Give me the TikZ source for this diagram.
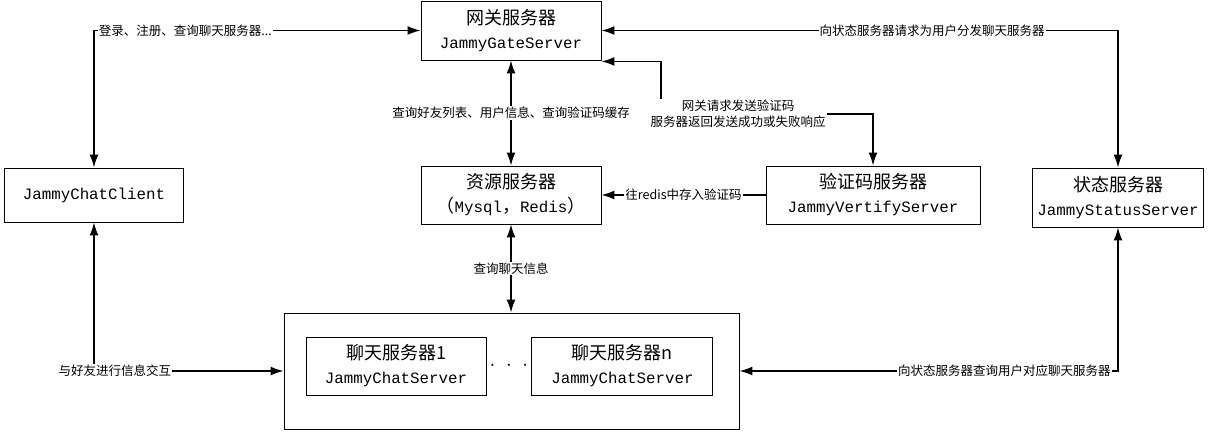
\documentclass[tikz,border=0pt]{standalone}
\usepackage{fontspec}
\setmainfont{Noto Sans CJK SC}
\newfontfamily\latinmono{Liberation Mono}
\usepackage{tikz}
\usetikzlibrary{arrows.meta,positioning,calc}
\newcommand{\mono}[1]{{\latinmono\fontsize{15.8}{24}\selectfont #1}}

\begin{document}
\begin{tikzpicture}[
  x=1pt, y=-1pt,
  box/.style={draw,line width=0.9pt,inner sep=0pt,align=center,font=\fontsize{18}{24}\selectfont},
  frame/.style={draw,line width=0.9pt,inner sep=0pt},
  lbl/.style={fill=white,inner sep=1pt,align=center,font=\fontsize{12.5}{16}\selectfont},
  arrow/.style={-{Latex[length=13pt,width=9pt]},line width=1.5pt},
  biarrow/.style={{Latex[length=13pt,width=9pt]}-{Latex[length=13pt,width=9pt]},line width=1.5pt}
]
  \useasboundingbox (0,0) rectangle (1214,431);

  \node[box, minimum width=180pt, minimum height=59pt] (gate) at (511,30.5) {网关服务器\\\mono{JammyGateServer}};
  \node[box, minimum width=180pt, minimum height=58pt] (resource) at (511,195) {资源服务器\\（\mono{Mysql}，\mono{Redis}）};
  \node[box, minimum width=179pt, minimum height=54pt] (client) at (94,195) {\mono{JammyChatClient}};
  \node[box, minimum width=214pt, minimum height=58pt] (vertify) at (873,195) {验证码服务器\\\mono{JammyVertifyServer}};
  \node[box, minimum width=171pt, minimum height=59pt] (status) at (1118,197.5) {状态服务器\\\mono{JammyStatusServer}};

  \node[frame, minimum width=455pt, minimum height=116pt] (outer) at (511.5,371) {};
  \node[box, minimum width=180pt, minimum height=58pt] (chat1) at (396,366) {聊天服务器1\\\mono{JammyChatServer}};
  \node[box, minimum width=181pt, minimum height=58pt, right=45pt of chat1] (chatn) {聊天服务器n\\\mono{JammyChatServer}};
  \node[inner sep=0pt] (dots) at ($(chat1.east)!0.5!(chatn.west)$) {\fontsize{20}{20}\selectfont$\cdot\hspace{6pt}\cdot\hspace{6pt}\cdot$};

  \coordinate (gateLow) at ([yshift=-1pt]gate.south east);
  \coordinate (bend) at (661,114);

  \draw[biarrow] (client.north) |- node[lbl, pos=0.64] {登录、注册、查询聊天服务器...} (gate.west);
  \draw[biarrow] (gate.east) -| node[lbl, pos=0.32] {向状态服务器请求为用户分发聊天服务器} (status.north);
  \draw[biarrow] (gateLow) -| (bend) -| (vertify.north);
  \node[lbl] (codelbl) at (738,114) {网关请求发送验证码\\服务器返回发送成功或失败响应};
  \draw[biarrow] (gate.south) -- node[lbl] {查询好友列表、用户信息、查询验证码缓存} (resource.north);
  \draw[arrow] (vertify.west) -- node[lbl] {往redis中存入验证码} (resource.east);
  \draw[biarrow] (resource.south) -- node[lbl] {查询聊天信息} (outer.north -| resource.south);
  \draw[biarrow] (client.south) |- node[lbl, pos=0.555] {与好友进行信息交互} (outer.west);
  \draw[biarrow] (status.south) |- node[lbl, pos=0.65] {向状态服务器查询用户对应聊天服务器} (outer.east);
\end{tikzpicture}
\end{document}
